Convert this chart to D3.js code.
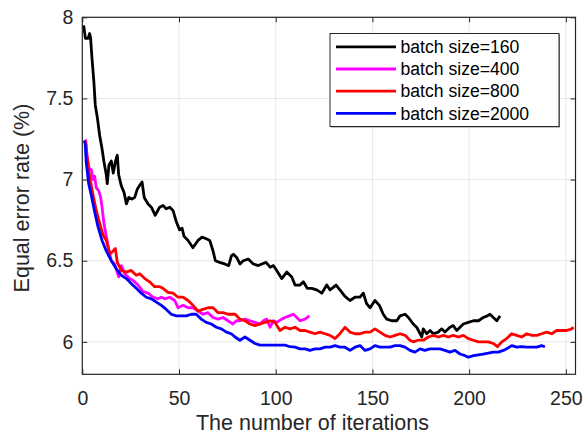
<!DOCTYPE html>
<html><head><meta charset="utf-8">
<script src="https://cdn.jsdelivr.net/npm/d3@7"></script>
<style>
html,body{margin:0;padding:0;background:#fff;}
svg{display:block;font-family:"Liberation Sans",Arial,Helvetica,sans-serif;}
</style></head>
<body>
<script>
// ---- data ----
const seriesNames = ["batch size=160","batch size=400","batch size=800","batch size=2000"];
const seriesColors = ["#000000","#ff00ff","#ff0000","#0000ff"];
const xTicks = [0,50,100,150,200,250];
const yTicks = [6,6.5,7,7.5,8];
const xTitle = "The number of iterations";
const yTitle = "Equal error rate (%)";

const batch160 = [[0.7,7.95],[1.6,7.87],[3,7.87],[3.8,7.90],[4.3,7.87],[5,7.75],[6,7.60],[6.7,7.46],[7.8,7.38],[9,7.27],[10.2,7.19],[11.2,7.11],[12.4,7.03],[12.9,6.975],[13.8,7.09],[15,7.115],[16,7.04],[17.1,7.11],[18.1,7.15],[18.8,7.03],[20.2,6.96],[21.6,6.92],[22.8,6.85],[24,6.89],[25.7,6.88],[27.1,6.89],[28.4,6.94],[29.7,6.965],[30.9,6.985],[32,6.89],[34,6.85],[35.7,6.83],[37.7,6.78],[40,6.83],[41.7,6.84],[43.4,6.82],[45.2,6.83],[46.9,6.81],[48.6,6.74],[50.3,6.69],[51.6,6.70],[52.6,6.65],[54.7,6.625],[57.2,6.58],[59.8,6.625],[61.9,6.645],[64.1,6.635],[65.9,6.625],[67.6,6.56],[68.8,6.50],[71,6.49],[73.6,6.48],[75.7,6.47],[77.1,6.53],[78.1,6.54],[79.8,6.52],[81.5,6.48],[83.2,6.50],[85.8,6.51],[88.4,6.48],[91,6.47],[92.8,6.48],[95,6.49],[97.1,6.46],[98.8,6.47],[100.5,6.44],[103.1,6.39],[105.7,6.43],[108.3,6.40],[110,6.35],[112.6,6.35],[114.3,6.37],[116.3,6.33],[118.6,6.33],[121.2,6.32],[123.8,6.30],[126.4,6.35],[128.1,6.32],[131.2,6.35],[133.2,6.32],[135.8,6.28],[138.4,6.255],[141,6.275],[143.6,6.275],[145.3,6.30],[147,6.235],[148.8,6.21],[151.3,6.255],[153.6,6.225],[155.6,6.17],[157.4,6.14],[160,6.13],[162.6,6.13],[164.3,6.16],[166.9,6.17],[168.6,6.15],[171.1,6.11],[172.9,6.09],[175.5,6.03],[176.3,6.08],[178.1,6.05],[179.8,6.07],[181.5,6.05],[184.1,6.06],[185.8,6.08],[187.5,6.06],[190.1,6.09],[191.8,6.10],[193.6,6.07],[195.3,6.09],[197,6.11],[199.6,6.12],[202.2,6.13],[204.8,6.13],[207.3,6.15],[209.4,6.16],[210.8,6.17],[212.5,6.15],[214.3,6.13],[216,6.16]];

const batch400 = [[1.2,7.24],[1.8,7.24],[2.4,7.15],[3.5,7.07],[4.7,7.06],[5.5,7.0],[6.4,7.02],[7.2,6.95],[8.5,6.93],[9.5,6.89],[10.2,6.83],[11.2,6.73],[12.4,6.65],[14.2,6.54],[15,6.50],[16.7,6.48],[18.8,6.40],[20.2,6.47],[21.9,6.42],[24.5,6.39],[26.2,6.38],[28.8,6.35],[31.4,6.31],[34,6.30],[36.6,6.275],[39.1,6.265],[40.9,6.275],[42.6,6.265],[45.2,6.275],[47.8,6.255],[49.5,6.21],[52.1,6.225],[54.7,6.21],[57.2,6.21],[59.8,6.19],[62.4,6.17],[65,6.18],[67.6,6.15],[70.2,6.14],[72.8,6.15],[75.3,6.13],[77.9,6.11],[79.6,6.13],[81.5,6.13],[84.1,6.14],[86.7,6.13],[89.3,6.12],[91.9,6.11],[93.6,6.13],[95.3,6.14],[97.1,6.09],[98.8,6.13],[100.5,6.12],[103.1,6.14],[104.8,6.15],[107,6.16],[109.1,6.17],[110.9,6.15],[112.6,6.13],[115.2,6.14],[117.4,6.16]];

const batch800 = [[1.2,7.24],[1.8,7.22],[3,7.08],[4.3,6.985],[5.5,6.91],[7.2,6.81],[9,6.73],[10.7,6.66],[12.4,6.625],[14.2,6.54],[15.9,6.56],[17.1,6.575],[18.1,6.49],[20.2,6.44],[22.8,6.43],[25.3,6.44],[27.9,6.41],[29.7,6.42],[32.3,6.39],[34.8,6.37],[37.4,6.34],[40,6.34],[41.7,6.33],[44.3,6.305],[46.9,6.30],[49.5,6.275],[52.1,6.275],[54.7,6.255],[57.2,6.225],[59.8,6.19],[62.4,6.20],[65,6.21],[67.6,6.21],[70.2,6.18],[72.8,6.18],[75.3,6.17],[77,6.17],[79,6.17],[81.5,6.14],[84.1,6.13],[86.7,6.11],[89.3,6.10],[91.9,6.11],[94.5,6.12],[97.1,6.13],[99.6,6.12],[102.2,6.07],[104.8,6.09],[107.4,6.08],[110,6.09],[112.6,6.07],[115.2,6.07],[117.7,6.06],[120.3,6.05],[122.9,6.06],[125.5,6.05],[128.1,6.04],[130.7,6.02],[133.2,6.05],[135.8,6.09],[138.4,6.06],[141,6.05],[143.6,6.05],[146.2,6.06],[148.8,6.06],[151.3,6.08],[153.9,6.06],[156.5,6.04],[159.1,6.03],[161.7,6.04],[164.3,6.05],[166.9,6.04],[169.4,6.01],[171.1,6.0],[173.7,6.01],[176.3,6.01],[178.9,6.03],[181.5,6.04],[184.1,6.03],[186.7,6.04],[189.2,6.03],[191.8,6.04],[194.4,6.03],[197,6.04],[199.6,6.02],[202.2,6.01],[204.8,6.0],[207.3,6.0],[209.9,6.0],[212.5,5.99],[214.6,5.97],[216.9,6.0],[219.4,6.02],[222,6.05],[224.6,6.04],[227.2,6.03],[229.8,6.05],[232.4,6.04],[235,6.04],[237.5,6.05],[240.1,6.06],[242.7,6.05],[245.3,6.07],[247.9,6.07],[250.5,6.07],[253,6.08],[254,6.09]];

const batch2000 = [[1,7.24],[1.5,7.22],[2,7.11],[3.3,6.975],[4.7,6.90],[6.4,6.80],[8.1,6.71],[10.2,6.625],[12.4,6.56],[15,6.50],[17.6,6.45],[20.2,6.41],[22.8,6.39],[25.3,6.36],[27.9,6.33],[30.5,6.30],[33.1,6.275],[35.7,6.265],[38.3,6.245],[40.9,6.225],[43.4,6.20],[46,6.17],[48.6,6.16],[51.2,6.16],[53.8,6.16],[56.4,6.17],[58.9,6.17],[61.5,6.14],[64.1,6.12],[66.7,6.11],[69.3,6.09],[71.9,6.08],[74.5,6.06],[77,6.05],[79,6.03],[81.5,6.01],[84.1,6.03],[86.7,6.01],[89.3,5.99],[91.9,5.98],[94.5,5.98],[97.1,5.98],[99.6,5.98],[102.2,5.98],[104.8,5.98],[107.4,5.97],[110,5.967],[112.6,5.957],[115.2,5.957],[117.7,5.947],[120.3,5.957],[122.9,5.957],[125.5,5.967],[128.1,5.967],[130.7,5.977],[133.2,5.967],[135.8,5.967],[138.4,5.947],[141,5.967],[143.6,5.977],[146.2,5.947],[148.8,5.957],[151.3,5.977],[153.9,5.967],[156.5,5.967],[159.1,5.967],[161.7,5.977],[164.3,5.977],[166.9,5.967],[169.4,5.947],[172,5.937],[174.6,5.957],[177.1,5.947],[179.8,5.957],[182.3,5.957],[184.9,5.957],[187.5,5.947],[190.1,5.937],[192.7,5.947],[195.3,5.925],[197.9,5.915],[199.6,5.905],[202.2,5.915],[204.8,5.92],[207.3,5.925],[209.9,5.93],[212.5,5.937],[215.1,5.937],[217.7,5.947],[219.4,5.957],[222,5.977],[224.6,5.967],[227.2,5.97],[229.8,5.967],[232.4,5.967],[235,5.967],[237.5,5.977],[239.2,5.97]];

const allSeries = [batch160, batch400, batch800, batch2000];

// ---- layout ----
const W = 583, H = 434;
const L = 82.3, R = 575.5, T = 17.3, B = 374.3;
const axisColor = "#262626";
const tickFont = "19.5px", titleFont = "21.5px", legendFont = "17.6px";

const svg = d3.select("body").append("svg").attr("width", W).attr("height", H);

const x = d3.scaleLinear().domain([0,255]).range([L,R]);
const y = d3.scaleLinear().domain([5.8,8]).range([B,T]);

// grid
const grid = svg.append("g");
grid.selectAll("line.gx").data(xTicks).join("line")
  .attr("x1", d=>x(d)).attr("x2", d=>x(d)).attr("y1", T).attr("y2", B)
  .attr("stroke", "#e6e6e6").attr("stroke-width", 1);
grid.selectAll("line.gy").data(yTicks).join("line")
  .attr("y1", d=>y(d)).attr("y2", d=>y(d)).attr("x1", L).attr("x2", R)
  .attr("stroke", "#e6e6e6").attr("stroke-width", 1);

// lines
const line = d3.line().x(d=>x(d[0])).y(d=>y(d[1]));
const plot = svg.append("g");
allSeries.forEach((s,i)=>{
  plot.append("path").datum(s).attr("d", line)
    .attr("fill","none").attr("stroke", seriesColors[i])
    .attr("stroke-width", 2.8).attr("stroke-linejoin","round").attr("stroke-linecap","butt");
});

// axes
const tickStyle = g => {
  g.select(".domain").remove();
  g.selectAll(".tick line").attr("stroke", axisColor);
  g.selectAll(".tick text").attr("fill", axisColor).style("font-size", tickFont)
   .style("font-family","'Liberation Sans',Arial,Helvetica,sans-serif");
};
svg.append("g").attr("transform",`translate(0,${B})`)
  .call(d3.axisBottom(x).tickValues(xTicks).tickSize(-5).tickPadding(17).tickFormat(d3.format("d")))
  .call(tickStyle);
svg.append("g").attr("transform",`translate(0,${T})`)
  .call(d3.axisTop(x).tickValues(xTicks).tickSize(-5).tickFormat(""))
  .call(tickStyle);
svg.append("g").attr("transform",`translate(${L},0)`)
  .call(d3.axisLeft(y).tickValues(yTicks).tickSize(-5).tickPadding(9).tickFormat(d=>String(d)))
  .call(tickStyle);
svg.append("g").attr("transform",`translate(${R},0)`)
  .call(d3.axisRight(y).tickValues(yTicks).tickSize(-5).tickFormat(""))
  .call(tickStyle);

// box
svg.append("rect").attr("x",L).attr("y",T).attr("width",R-L).attr("height",B-T)
  .attr("fill","none").attr("stroke",axisColor).attr("stroke-width",1.2);

// titles
svg.append("text").attr("x",312.5).attr("y",430).attr("text-anchor","middle")
  .attr("fill",axisColor).style("font-size",titleFont).text(xTitle);
svg.append("text").attr("transform",`translate(29,198) rotate(-90)`)
  .attr("text-anchor","middle").attr("fill",axisColor).style("font-size",titleFont).text(yTitle);

// legend
const lg = svg.append("g");
const lx = 330, ly = 33.5, lw = 229, lh = 93;
lg.append("rect").attr("x",lx+1).attr("y",ly+1).attr("width",lw).attr("height",lh)
  .attr("fill","#888");
lg.append("rect").attr("x",lx).attr("y",ly).attr("width",lw).attr("height",lh)
  .attr("fill","#fff").attr("stroke",axisColor).attr("stroke-width",1);
seriesNames.forEach((n,i)=>{
  const yy = ly + 13.3 + i*22.2;
  lg.append("line").attr("x1",336).attr("x2",396).attr("y1",yy).attr("y2",yy)
    .attr("stroke",seriesColors[i]).attr("stroke-width",2.8);
  lg.append("text").attr("x",400.5).attr("y",yy).attr("dy","0.35em")
    .attr("fill","#000").style("font-size",legendFont).text(n);
});
</script>
</body></html>
